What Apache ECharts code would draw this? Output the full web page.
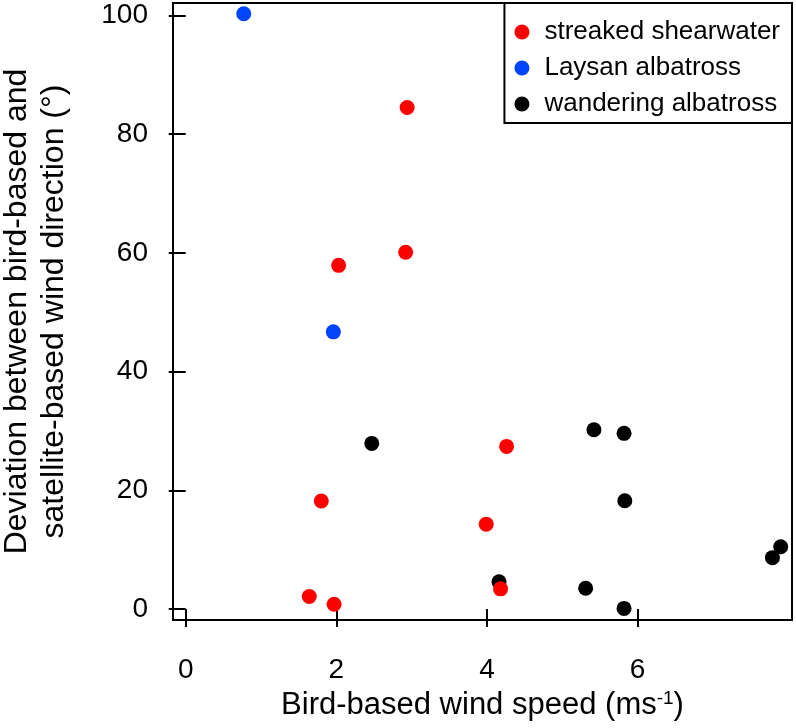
<!DOCTYPE html>
<html>
<head>
<meta charset="utf-8">
<script src="https://cdn.jsdelivr.net/npm/echarts@6/dist/echarts.min.js"></script>
<style>
  html, body { margin: 0; padding: 0; background: #fff; }
  #chart { width: 796px; height: 728px; }
</style>
</head>
<body>
<div id="chart"></div>
<script>
// ---- data ----
const seriesNames = ['streaked shearwater', 'Laysan albatross', 'wandering albatross'];
const streakedSpeed = [2.94, 2.92, 2.03, 1.80, 4.26, 3.99, 4.18, 1.64, 1.97];
const streakedDev   = [84.5, 60.1, 57.9, 18.2, 27.4, 14.3, 3.4, 2.1, 0.8];
const laysanSpeed = [0.77, 1.96];
const laysanDev   = [100.3, 46.7];
const wanderingSpeed = [2.47, 5.42, 5.82, 5.83, 7.90, 7.79, 4.16, 5.31, 5.82];
const wanderingDev   = [27.9, 30.2, 29.6, 18.25, 10.5, 8.65, 4.6, 3.5, 0.1];
const xTicks = [0, 2, 4, 6];
const yTicks = [0, 20, 40, 60, 80, 100];

const pairs = (xs, ys) => xs.map((x, i) => [x, ys[i]]);
const FONT = '"Liberation Sans", Arial, Helvetica, sans-serif';

const chart = echarts.init(document.getElementById('chart'), null, { renderer: 'canvas' });
chart.setOption({
  animation: false,
  backgroundColor: '#fff',
  textStyle: { fontFamily: FONT, color: '#000' },
  grid: {
    left: 173, top: 3, width: 619, height: 617,
    containLabel: false, outerBoundsMode: 'none',
    show: true, borderColor: '#000', borderWidth: 2, backgroundColor: 'transparent'
  },
  xAxis: {
    type: 'value', min: -0.169, max: 8.05,
    axisLine: { show: false },
    splitLine: { show: false },
    axisTick: { show: true, customValues: xTicks, length: 18, inside: false,
                lineStyle: { color: '#000', width: 2 } },
    axisLabel: { customValues: xTicks, fontSize: 28, color: '#000', margin: 36, fontFamily: FONT },
    name: 'Bird-based wind speed (ms{sup|-1})',
    nameLocation: 'middle', nameGap: 66,
    nameTextStyle: { fontSize: 31, color: '#000', fontFamily: FONT,
      rich: { sup: { fontSize: 19, verticalAlign: 'top', padding: [0, 0, 14, 0], fontFamily: FONT, color: '#000' } } }
  },
  yAxis: {
    type: 'value', min: -1.85, max: 102.1,
    axisLine: { show: false },
    splitLine: { show: false },
    axisTick: { show: true, customValues: yTicks, length: 17, inside: false,
                lineStyle: { color: '#000', width: 2 } },
    axisLabel: { customValues: yTicks, fontSize: 28, color: '#000', margin: 25, fontFamily: FONT },
    name: 'Deviation between bird-based and\nsatellite-based wind direction (°)',
    nameLocation: 'middle', nameGap: 100, nameRotate: 90,
    nameTextStyle: { fontSize: 32, lineHeight: 37, color: '#000', fontFamily: FONT, align: 'center' }
  },
  legend: {
    orient: 'vertical', right: 4, top: 3,
    data: seriesNames,
    icon: 'circle', itemWidth: 15, itemHeight: 15, itemGap: 10,
    borderColor: '#000', borderWidth: 2, backgroundColor: '#fff',
    padding: [16, 12, 6, 10],
    textStyle: { fontSize: 26, color: '#000', fontFamily: FONT, padding: [0, 0, 0, 10] }
  },
  series: [
    { name: seriesNames[0], type: 'scatter', data: pairs(streakedSpeed, streakedDev),
      symbol: 'circle', symbolSize: 15, itemStyle: { color: '#ff0000', opacity: 1 }, z: 4 },
    { name: seriesNames[1], type: 'scatter', data: pairs(laysanSpeed, laysanDev),
      symbol: 'circle', symbolSize: 15, itemStyle: { color: '#0044ff', opacity: 1 }, z: 4 },
    { name: seriesNames[2], type: 'scatter', data: pairs(wanderingSpeed, wanderingDev),
      symbol: 'circle', symbolSize: 15, itemStyle: { color: '#000000', opacity: 1 }, z: 3 }
  ]
});
</script>
</body>
</html>
